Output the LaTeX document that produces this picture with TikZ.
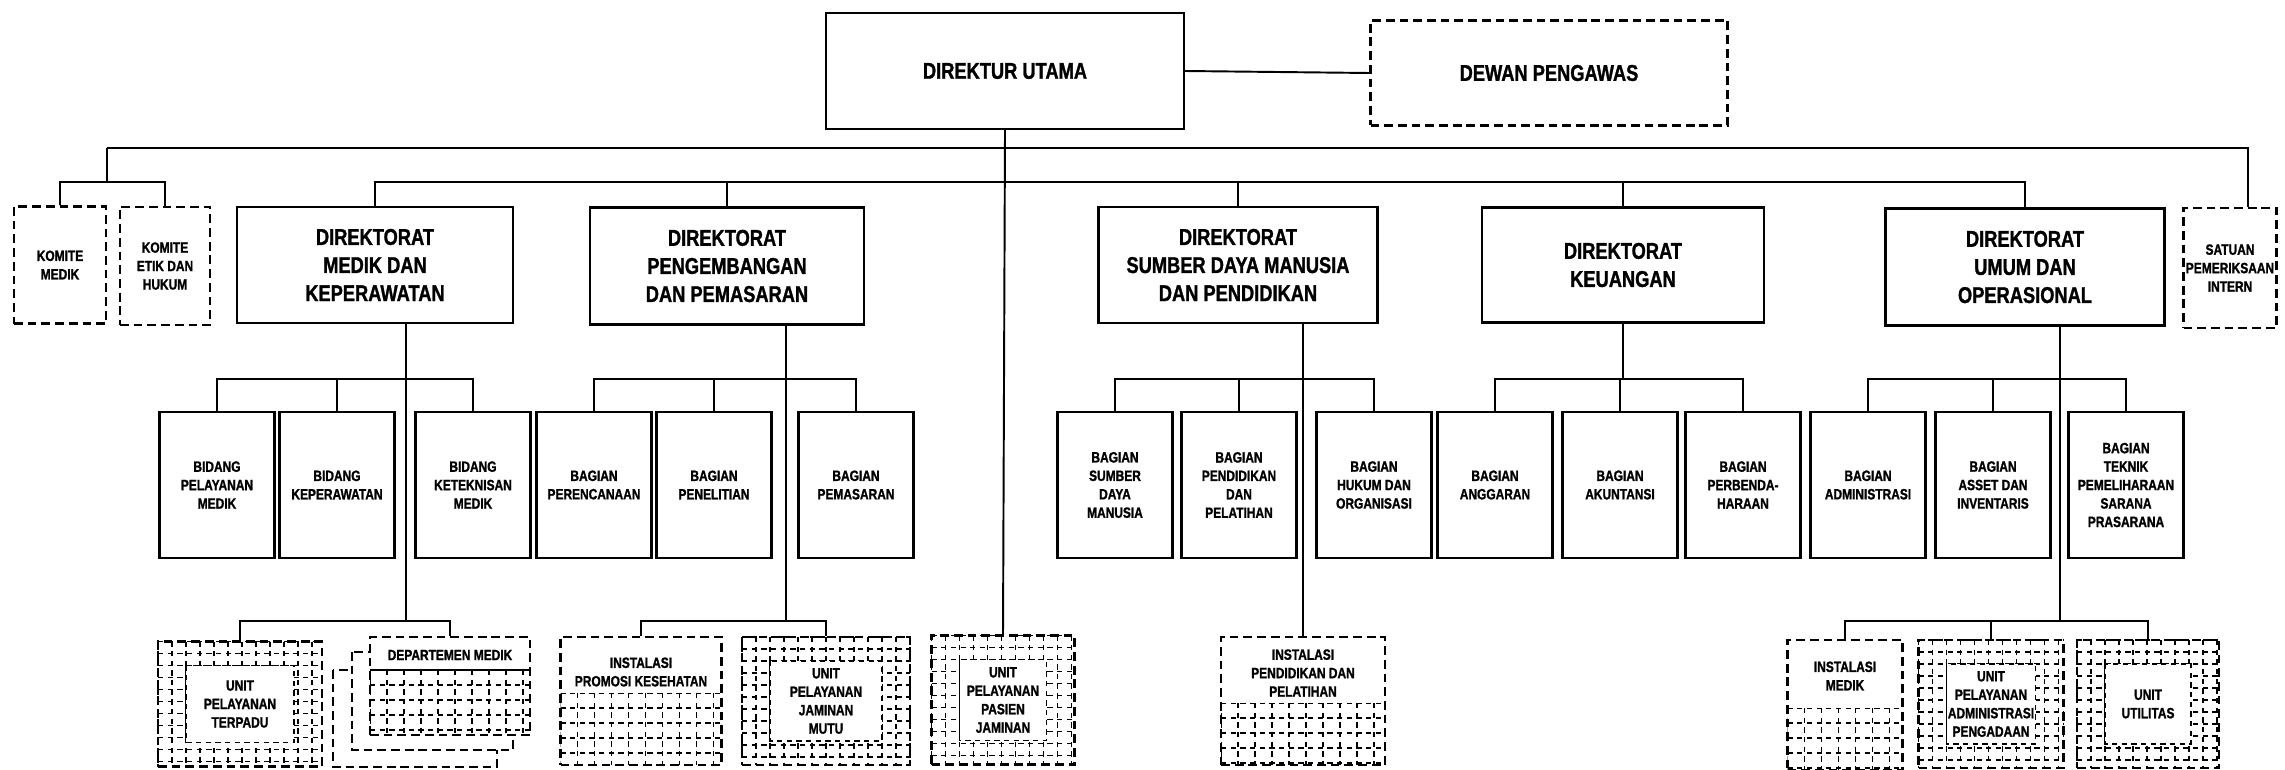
\documentclass[tikz,border=0pt]{standalone}
\usepackage{fontspec}
\setmainfont{Liberation Sans}[FakeStretch=0.8,BoldFont={Liberation Sans Bold},BoldFeatures={FakeBold=1.2}]

% kotak unit: bingkai kisi putus-putus, teks di tengah
\newcommand{\unitbox}[6]{%
  \node[kotak,putus,ukuran={#4}{#5}] (#1) at (#2,#3) {};
  \begin{scope}
    \clip (#1.south west) rectangle (#1.north east);
    \foreach \i in {0,...,14} {
      \draw[kisi] (#2-#4/2+\i*14,#3-#5/2) -- ++(0,#5);
      \draw[kisi] (#2-#4/2,#3-#5/2+\i*12) -- ++(#4,0);
    }
  \end{scope}
  \filldraw[kisi,fill=white] (#2-#4/2+28,#3-#5/2+24) rectangle (#2+#4/2-28,#3+#5/2-24);
  \node[kecil] (#1-t) at (#2,#3) {#6};
}
% kotak instalasi: teks di atas, kisi di bawah
\newcommand{\instbox}[8]{%
  \node[kotak,putus,ukuran={#4}{#5}] (#1) at (#2,#3) {};
  \begin{scope}
    \clip (#2-#4/2,#6) rectangle (#2+#4/2,#3+#5/2);
    \foreach \i in {0,...,12} {
      \draw[kisi] (#2-#4/2+\i*17,#6) -- (#2-#4/2+\i*17,#3+#5/2);
      \draw[kisi] (#2-#4/2,#6+\i*15) -- ++(#4,0);
    }
  \end{scope}
  \node[kecil] (#1-t) at (#2,#7) {#8};
}

\begin{document}
\begin{tikzpicture}[x=0.02cm,y=-0.02cm,line width=1.1pt,
  ukuran/.style 2 args={minimum width=#1*0.02cm,minimum height=#2*0.02cm},
  kotak/.style={draw,line width=1.3pt,fill=white,align=center,inner sep=1pt},
  besar/.style={font=\fontsize{13}{16}\selectfont\bfseries,align=center},
  kecil/.style={font=\fontsize{8.5}{10.5}\selectfont\bfseries,align=center},
  putus/.style={dash pattern=on 5pt off 2.8pt},
  kisi/.style={line width=0.9pt,dash pattern=on 3pt off 2.5pt}]
  \fill[white] (0,0) rectangle (2285,770);
  \useasboundingbox (0,0) rectangle (2285,770);

  % pimpinan
  \node[kotak,besar,ukuran={358}{116}] (du) at (1005,71) {DIREKTUR UTAMA};
  \node[kotak,besar,putus,ukuran={357}{105}] (dp) at (1549,73) {DEWAN PENGAWAS};

  % komite dan satuan (putus-putus)
  \node[kotak,kecil,putus,ukuran={92}{117}] (km) at (60,265) {KOMITE\\MEDIK};
  \node[kotak,kecil,putus,ukuran={90}{118}] (ke) at (165,266) {KOMITE\\ETIK DAN\\HUKUM};
  \node[kotak,kecil,putus,ukuran={93}{120}] (spi) at (2230,268) {SATUAN\\PEMERIKSAAN\\INTERN};

  % direktorat
  \node[kotak,besar,ukuran={276}{116}] (dmk) at (375,265) {DIREKTORAT\\MEDIK DAN\\KEPERAWATAN};
  \node[kotak,besar,ukuran={274}{117}] (dpp) at (727,266) {DIREKTORAT\\PENGEMBANGAN\\DAN PEMASARAN};
  \node[kotak,besar,ukuran={279}{116}] (dsdm) at (1238,265) {DIREKTORAT\\SUMBER DAYA MANUSIA\\DAN PENDIDIKAN};
  \node[kotak,besar,ukuran={282}{115}] (dkeu) at (1623,265) {DIREKTORAT\\KEUANGAN};
  \node[kotak,besar,ukuran={279}{117}] (dumo) at (2025,267) {DIREKTORAT\\UMUM DAN\\OPERASIONAL};

  % bidang / bagian
  \foreach \nm/\x/\txt in {
      bpm/217/{BIDANG\\PELAYANAN\\MEDIK}, bkp/337/{BIDANG\\KEPERAWATAN},
      bkm/473/{BIDANG\\KETEKNISAN\\MEDIK}, bpr/594/{BAGIAN\\PERENCANAAN},
      bpn/714/{BAGIAN\\PENELITIAN}, bps/856/{BAGIAN\\PEMASARAN},
      bsd/1115/{BAGIAN\\SUMBER\\DAYA\\MANUSIA}, bpl/1239/{BAGIAN\\PENDIDIKAN\\DAN\\PELATIHAN},
      bho/1374/{BAGIAN\\HUKUM DAN\\ORGANISASI}, bag/1495/{BAGIAN\\ANGGARAN},
      bak/1620/{BAGIAN\\AKUNTANSI}, bpb/1743/{BAGIAN\\PERBENDA-\\HARAAN},
      bad/1868/{BAGIAN\\ADMINISTRASI}, bai/1993/{BAGIAN\\ASSET DAN\\INVENTARIS},
      btk/2126/{BAGIAN\\TEKNIK\\PEMELIHARAAN\\SARANA\\PRASARANA}}
    \node[kotak,kecil,ukuran={115}{146}] (\nm) at (\x,485) {\txt};

  % unit dan instalasi
  \unitbox{upt}{240}{704}{164}{125}{UNIT\\PELAYANAN\\TERPADU}
  \instbox{ipk}{641}{701}{161}{128}{693}{672}{INSTALASI\\PROMOSI KESEHATAN}
  \unitbox{upjm}{826}{701}{168}{128}{UNIT\\PELAYANAN\\JAMINAN\\MUTU}
  \unitbox{uppj}{1003}{700}{143}{129}{UNIT\\PELAYANAN\\PASIEN\\JAMINAN}
  \instbox{ipdp}{1303}{701}{164}{128}{703}{673}{INSTALASI\\PENDIDIKAN DAN\\PELATIHAN}
  \instbox{im}{1845}{705}{115}{130}{708}{676}{INSTALASI\\MEDIK}
  \unitbox{upap}{1991}{704}{145}{128}{UNIT\\PELAYANAN\\ADMINISTRASI\\PENGADAAN}
  \unitbox{uu}{2148}{704}{142}{128}{UNIT\\UTILITAS}

  % departemen medik (bertumpuk)
  \draw[putus,fill=white,line width=1.2pt] (333,670) rectangle (497,767);
  \draw[putus,fill=white,line width=1.2pt] (352,652) rectangle (513,750);
  \node[kotak,putus,ukuran={160}{98}] (dept) at (450,686) {};
  \begin{scope}
    \clip (370,670) rectangle (530,735);
    \foreach \i in {0,...,10} {
      \draw[kisi] (370+\i*17,670) -- (370+\i*17,735);
      \draw[kisi] (370,670+\i*15) -- (530,670+\i*15);
    }
  \end{scope}
  \draw (370,670) -- (530,670);
  \node[kecil] (dept-t) at (450,655) {DEPARTEMEN MEDIK};

  % garis komando
  \coordinate (a1) at (107,148);
  \coordinate (a2) at (2248,148);
  \coordinate (b1) at (0,182);
  \coordinate (c1) at (0,379);
  \coordinate (d1) at (0,621);
  \draw (du.east) -- (dp.west);
  \draw (du.south) -- (uppj.north);
  \draw (a1) -- (a2) -- (a2 |- spi.north);
  \draw (a1) -- ++(0,34) coordinate (a3);
  \draw (km.north) -- (km.north |- a3) -| (ke.north);
  \draw (dmk.north) -- (dmk.north |- b1) -| (dumo.north);
  \foreach \n in {dpp,dsdm,dkeu}
    \draw (\n.north) -- (\n.north |- b1);
  \foreach \a/\b/\c in {bpm/bkp/bkm,bpr/bpn/bps,bsd/bpl/bho,bag/bak/bpb,bad/bai/btk} {
    \draw (\a.north) -- (\a.north |- c1) -| (\c.north);
    \draw (\b.north) -- (\b.north |- c1);
  }
  \draw (dkeu.south) -- (dkeu.south |- c1);
  \draw (dmk.south) ++(31,0) coordinate (vm) -- (vm |- d1);
  \draw (upt.north) -- (upt.north |- d1) -| (dept.north);
  \draw (dpp.south) ++(59,0) coordinate (vp) -- (vp |- d1);
  \draw (ipk.north) -- (ipk.north |- d1) -| (upjm.north);
  \draw (ipdp.north) -- (ipdp.north |- dsdm.south);
  \draw (dumo.south) ++(35,0) coordinate (vu) -- (vu |- d1);
  \draw (im.north) -- (im.north |- d1) -| (uu.north);
  \draw (upap.north) -- (upap.north |- d1);
\end{tikzpicture}
\end{document}
